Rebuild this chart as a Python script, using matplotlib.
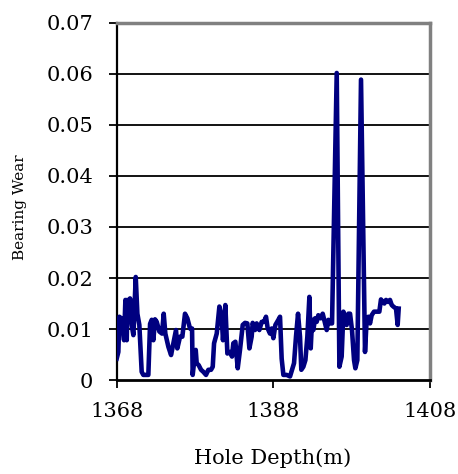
import numpy as np
import matplotlib.pyplot as plt

# bearing wear logged against hole depth
depth = [1368.00, 1368.21, 1368.34, 1368.64, 1368.94, 1369.11, 1369.28, 1369.36,
         1369.53, 1369.70, 1369.91, 1370.13, 1370.43, 1370.64, 1370.89, 1371.19,
         1371.40, 1372.04, 1372.26, 1372.47, 1372.68, 1372.89, 1373.11, 1373.45,
         1373.79, 1374.00, 1374.21, 1374.60, 1374.94, 1375.23, 1375.57, 1375.74,
         1376.09, 1376.38, 1376.72, 1377.02, 1377.36, 1377.62, 1377.70, 1377.91,
         1378.09, 1378.21, 1378.47, 1378.77, 1379.06, 1379.40, 1379.70, 1380.04,
         1380.26, 1380.43, 1380.77, 1381.11, 1381.40, 1381.57, 1381.87, 1382.13,
         1382.47, 1382.72, 1382.89, 1383.15, 1383.45, 1383.74, 1384.09, 1384.38,
         1384.68, 1384.94, 1385.23, 1385.36, 1385.66, 1385.87, 1386.21, 1386.51,
         1386.81, 1387.06, 1387.28, 1387.57, 1387.79, 1388.00, 1388.26, 1388.64,
         1388.85, 1389.06, 1389.28, 1389.70, 1390.13, 1390.38, 1390.64, 1390.89,
         1391.15, 1391.40, 1391.57, 1391.83, 1392.09, 1392.34, 1392.60, 1392.77,
         1392.94, 1393.11, 1393.32, 1393.53, 1393.74, 1394.04, 1394.30, 1394.55,
         1394.81, 1395.02, 1395.23, 1395.49, 1396.09, 1396.43, 1396.72, 1396.94,
         1397.15, 1397.36, 1397.57, 1397.79, 1398.04, 1398.30, 1398.47, 1398.72,
         1399.19, 1399.70, 1399.91, 1400.13, 1400.34, 1400.55, 1400.85, 1401.19,
         1401.53, 1401.74, 1401.96, 1402.17, 1402.38, 1402.68, 1402.89, 1403.11,
         1403.32, 1403.66, 1403.87, 1404.00]

wear = [0.0042, 0.0055, 0.0124, 0.0120, 0.0078, 0.0157, 0.0078, 0.0157,
        0.0118, 0.0160, 0.0108, 0.0088, 0.0202, 0.0130, 0.0108, 0.0016,
        0.0010, 0.0010, 0.0110, 0.0118, 0.0078, 0.0119, 0.0114, 0.0095,
        0.0091, 0.0130, 0.0091, 0.0065, 0.0049, 0.0072, 0.0098, 0.0062,
        0.0085, 0.0085, 0.0130, 0.0121, 0.0101, 0.0101, 0.0010, 0.0039,
        0.0059, 0.0033, 0.0029, 0.0020, 0.0016, 0.0010, 0.0020, 0.0020,
        0.0026, 0.0072, 0.0091, 0.0144, 0.0124, 0.0078, 0.0147, 0.0052,
        0.0055, 0.0046, 0.0072, 0.0075, 0.0023, 0.0059, 0.0108, 0.0112,
        0.0111, 0.0062, 0.0085, 0.0112, 0.0098, 0.0111, 0.0098, 0.0114,
        0.0114, 0.0124, 0.0101, 0.0091, 0.0101, 0.0082, 0.0108, 0.0118,
        0.0124, 0.0042, 0.0010, 0.0010, 0.0007, 0.0020, 0.0033, 0.0085,
        0.0130, 0.0085, 0.0020, 0.0026, 0.0039, 0.0085, 0.0163, 0.0062,
        0.0118, 0.0098, 0.0121, 0.0114, 0.0127, 0.0121, 0.0130, 0.0114,
        0.0098, 0.0118, 0.0111, 0.0111, 0.0602, 0.0026, 0.0046, 0.0134,
        0.0118, 0.0108, 0.0130, 0.0130, 0.0098, 0.0039, 0.0023, 0.0039,
        0.0589, 0.0055, 0.0118, 0.0124, 0.0111, 0.0127, 0.0134, 0.0134,
        0.0134, 0.0158, 0.0153, 0.0150, 0.0157, 0.0153, 0.0157, 0.0147,
        0.0144, 0.0140, 0.0108, 0.0140]

x_ticks = [1368, 1388, 1408]
y_ticks = [0, 0.01, 0.02, 0.03, 0.04, 0.05, 0.06, 0.07]
y_tick_labels = ["0", "0.01", "0.02", "0.03", "0.04", "0.05", "0.06", "0.07"]

plt.rcParams['font.family'] = ['DejaVu Serif']

fig = plt.figure(figsize=(4.58, 4.74), dpi=100)
ax = fig.add_axes([0.2548, 0.1983, 0.6841, 0.7532])

ax.plot(depth, wear, color='#000080', lw=3.3, solid_joinstyle='round', zorder=3)

ax.set_xlim(1368, 1408)
ax.set_ylim(0, 0.07)
ax.set_xticks(x_ticks)
ax.set_xticklabels([str(t) for t in x_ticks])
ax.set_yticks(y_ticks)
ax.set_yticklabels(y_tick_labels)

# horizontal grid only, inner lines
for yv in y_ticks[1:-1]:
    ax.axhline(yv, color='black', lw=1.3, zorder=1)

for side in ['top', 'right']:
    ax.spines[side].set_color('#808080')
    ax.spines[side].set_linewidth(2.5)
ax.spines['left'].set_color('black')
ax.spines['left'].set_linewidth(1.6)
ax.spines['bottom'].set_color('black')
ax.spines['bottom'].set_linewidth(2.0)

ax.tick_params(axis='y', direction='out', length=6, width=1.3, pad=11, labelsize=15)
ax.tick_params(axis='x', direction='out', length=6, width=1.3, pad=10, labelsize=15)

fig.text(273 / 458, 1 - 458 / 474, "Hole Depth(m)", ha='center', va='center', fontsize=15)
fig.text(20 / 458, 1 - 207 / 474, "Bearing Wear", ha='center', va='center',
         rotation=90, fontsize=11)

fig.savefig("out.png", dpi=100)
